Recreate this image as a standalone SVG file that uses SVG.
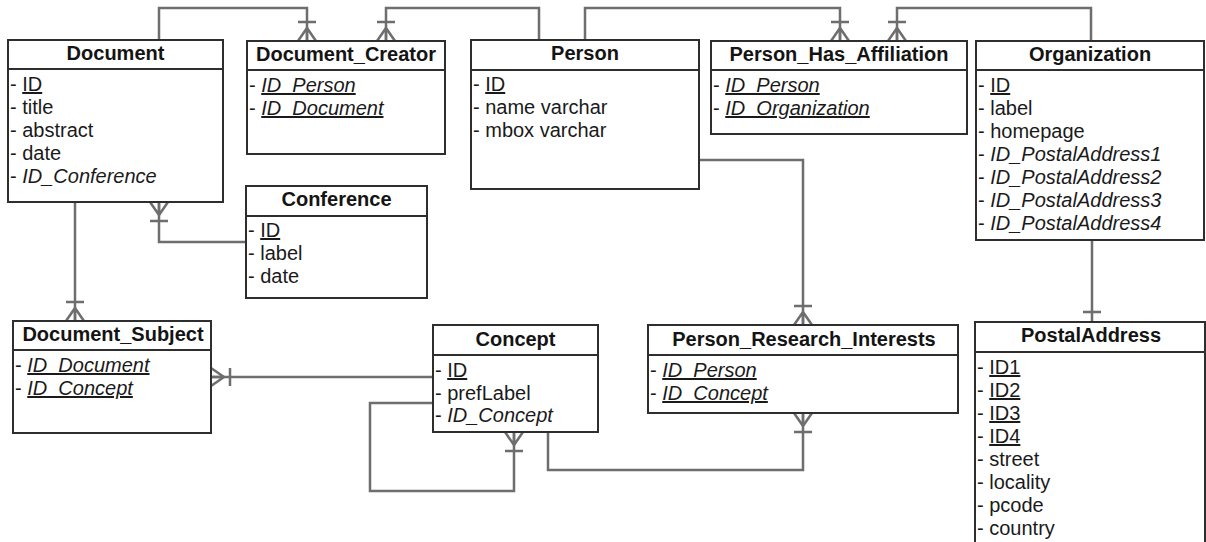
<svg xmlns="http://www.w3.org/2000/svg" xmlns:xlink="http://www.w3.org/1999/xlink" width="1206" height="542" viewBox="0 0 1206 542">
  <style>
    .box { fill: #ffffff; stroke: #2e2e2e; stroke-width: 2; }
    .sep { stroke: #2e2e2e; stroke-width: 2; }
    .hdr { font-family: "Liberation Sans", Arial, sans-serif; font-size: 20px; font-weight: bold; fill: #141414; text-anchor: middle; }
    .attr { font-family: "Liberation Sans", Arial, sans-serif; font-size: 20px; fill: #1a1a1a; }
    .fk { font-style: italic; }
    .pk { text-decoration: underline; }
    .conn { fill: none; stroke: #6e6e6e; stroke-width: 2.5; }
  </style>
  <defs>
    <!-- crow's foot (many) with a bar (one), drawn at a box edge at the origin, line leaving towards -y -->
    <path id="crow" d="M-9,0 L0,-13 L9,0 M0,0 V-13 M-9,-19 H9" />
  </defs>

  <rect width="1206" height="542" fill="#ffffff" />

  <!-- relationship lines -->
  <g id="connectors" class="conn">
    <!-- Document - Document_Creator -->
    <path d="M159,40 V8 H307 V41" />
    <use xlink:href="#crow" href="#crow" transform="translate(307,41)" />
    <!-- Person - Document_Creator -->
    <path d="M539,40 V8 H386 V41" />
    <use xlink:href="#crow" href="#crow" transform="translate(386,41)" />
    <!-- Person - Person_Has_Affiliation -->
    <path d="M585,40 V8 H840 V41" />
    <use xlink:href="#crow" href="#crow" transform="translate(840,41)" />
    <!-- Organization - Person_Has_Affiliation -->
    <path d="M1091,41 V8 H897 V41" />
    <use xlink:href="#crow" href="#crow" transform="translate(897,41)" />
    <!-- Conference - Document -->
    <path d="M246,242 H159 V202" />
    <use xlink:href="#crow" href="#crow" transform="translate(159,202) rotate(180)" />
    <!-- Document - Document_Subject -->
    <path d="M75,202 V321" />
    <use xlink:href="#crow" href="#crow" transform="translate(75,321)" />
    <!-- Concept - Document_Subject -->
    <path d="M433,377 H211" />
    <use xlink:href="#crow" href="#crow" transform="translate(211,377) rotate(90)" />
    <!-- Person - Person_Research_Interests -->
    <path d="M699,160 H803 V325" />
    <use xlink:href="#crow" href="#crow" transform="translate(803,325)" />
    <!-- Concept - Person_Research_Interests -->
    <path d="M548,432 V470 H803 V413" />
    <use xlink:href="#crow" href="#crow" transform="translate(803,413) rotate(180)" />
    <!-- Concept broader concept (self reference) -->
    <path d="M433,403 H370 V491 H514 V432" />
    <use xlink:href="#crow" href="#crow" transform="translate(514,432) rotate(180)" />
    <!-- Organization - PostalAddress -->
    <path d="M1092,240 V322 M1083,312 H1101" />
  </g>

  <g id="Document">
    <rect class="box" x="8" y="40" width="215" height="162" />
    <line class="sep" x1="8" y1="69" x2="223" y2="69" />
    <text class="hdr" x="115.5" y="60">Document</text>
    <text class="attr" x="10" y="91">- <tspan class="pk">ID</tspan></text>
    <text class="attr" x="10" y="114">- title</text>
    <text class="attr" x="10" y="137">- abstract</text>
    <text class="attr" x="10" y="160">- date</text>
    <text class="attr" x="10" y="183">- <tspan class="fk">ID_Conference</tspan></text>
  </g>

  <g id="Document_Creator">
    <rect class="box" x="247" y="41" width="198" height="113" />
    <line class="sep" x1="247" y1="70" x2="445" y2="70" />
    <text class="hdr" x="346" y="61">Document_Creator</text>
    <text class="attr" x="249" y="92">- <tspan class="fk pk">ID_Person</tspan></text>
    <text class="attr" x="249" y="115">- <tspan class="fk pk">ID_Document</tspan></text>
  </g>

  <g id="Person">
    <rect class="box" x="471" y="40" width="228" height="149" />
    <line class="sep" x1="471" y1="70" x2="699" y2="70" />
    <text class="hdr" x="585" y="60">Person</text>
    <text class="attr" x="473" y="91">- <tspan class="pk">ID</tspan></text>
    <text class="attr" x="473" y="114">- name varchar</text>
    <text class="attr" x="473" y="137">- mbox varchar</text>
  </g>

  <g id="Person_Has_Affiliation">
    <rect class="box" x="711" y="41" width="256" height="93" />
    <line class="sep" x1="711" y1="70" x2="967" y2="70" />
    <text class="hdr" x="839" y="61">Person_Has_Affiliation</text>
    <text class="attr" x="713" y="92">- <tspan class="fk pk">ID_Person</tspan></text>
    <text class="attr" x="713" y="115">- <tspan class="fk pk">ID_Organization</tspan></text>
  </g>

  <g id="Organization">
    <rect class="box" x="976" y="41" width="228" height="199" />
    <line class="sep" x1="976" y1="70" x2="1204" y2="70" />
    <text class="hdr" x="1090" y="61">Organization</text>
    <text class="attr" x="978" y="92">- <tspan class="pk">ID</tspan></text>
    <text class="attr" x="978" y="115">- label</text>
    <text class="attr" x="978" y="138">- homepage</text>
    <text class="attr" x="978" y="161">- <tspan class="fk">ID_PostalAddress1</tspan></text>
    <text class="attr" x="978" y="184">- <tspan class="fk">ID_PostalAddress2</tspan></text>
    <text class="attr" x="978" y="207">- <tspan class="fk">ID_PostalAddress3</tspan></text>
    <text class="attr" x="978" y="230">- <tspan class="fk">ID_PostalAddress4</tspan></text>
  </g>

  <g id="Conference">
    <rect class="box" x="246" y="186" width="181" height="112" />
    <line class="sep" x1="246" y1="216" x2="427" y2="216" />
    <text class="hdr" x="336.5" y="206">Conference</text>
    <text class="attr" x="248" y="237">- <tspan class="pk">ID</tspan></text>
    <text class="attr" x="248" y="260">- label</text>
    <text class="attr" x="248" y="283">- date</text>
  </g>

  <g id="Document_Subject">
    <rect class="box" x="13" y="321" width="198" height="112" />
    <line class="sep" x1="13" y1="350" x2="211" y2="350" />
    <text class="hdr" x="113" y="341">Document_Subject</text>
    <text class="attr" x="15" y="372">- <tspan class="fk pk">ID_Document</tspan></text>
    <text class="attr" x="15" y="395">- <tspan class="fk pk">ID_Concept</tspan></text>
  </g>

  <g id="Concept">
    <rect class="box" x="433" y="325" width="165" height="107" />
    <line class="sep" x1="433" y1="355" x2="598" y2="355" />
    <text class="hdr" x="515.5" y="346">Concept</text>
    <text class="attr" x="435" y="377">- <tspan class="pk">ID</tspan></text>
    <text class="attr" x="435" y="400">- prefLabel</text>
    <text class="attr" x="435" y="422">- <tspan class="fk">ID_Concept</tspan></text>
  </g>

  <g id="Person_Research_Interests">
    <rect class="box" x="648" y="325" width="310" height="88" />
    <line class="sep" x1="648" y1="355" x2="958" y2="355" />
    <text class="hdr" x="804" y="346">Person_Research_Interests</text>
    <text class="attr" x="650" y="377">- <tspan class="fk pk">ID_Person</tspan></text>
    <text class="attr" x="650" y="400">- <tspan class="fk pk">ID_Concept</tspan></text>
  </g>

  <g id="PostalAddress">
    <rect class="box" x="975" y="322" width="230" height="240" />
    <line class="sep" x1="975" y1="352" x2="1205" y2="352" />
    <text class="hdr" x="1091" y="342">PostalAddress</text>
    <text class="attr" x="977" y="374">- <tspan class="pk">ID1</tspan></text>
    <text class="attr" x="977" y="397">- <tspan class="pk">ID2</tspan></text>
    <text class="attr" x="977" y="420">- <tspan class="pk">ID3</tspan></text>
    <text class="attr" x="977" y="443">- <tspan class="pk">ID4</tspan></text>
    <text class="attr" x="977" y="466">- street</text>
    <text class="attr" x="977" y="489">- locality</text>
    <text class="attr" x="977" y="512">- pcode</text>
    <text class="attr" x="977" y="535">- country</text>
  </g>
</svg>
